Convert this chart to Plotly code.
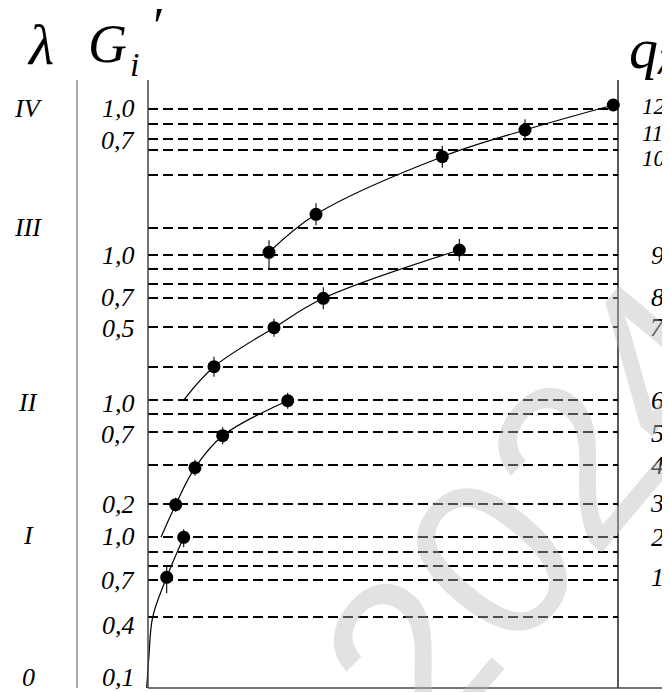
import plotly.graph_objects as go

# Coordinate system: x = distance from the left border of the diagram,
# y = height above the base line (both in diagram units).

# Dashed level lines
level_lines = [579, 564, 549, 538, 513, 460, 433, 419, 404, 390, 361,
               321, 288, 274, 256, 223, 184, 151, 136, 122, 108, 71]

curve_a_x = [-1.3, 0.8, 4.7, 18.7, 35.7]
curve_a_y = [0, 30, 71, 110.7, 150.7]
pts_a_x = [18.7, 35.7]
pts_a_y = [110.7, 150.7]
pts_a_up = [10.7, 8]
pts_a_dn = [16, 10]

curve_b_x = [13, 27.7, 47, 74.7, 139.7]
curve_b_y = [150.7, 183.3, 220.3, 252.3, 287.3]
pts_b_x = [27.7, 47, 74.7, 139.7]
pts_b_y = [183.3, 220.3, 252.3, 287.3]
pts_b_up = [7, 8, 8.5, 8]
pts_b_dn = [7, 8, 8.5, 8]

curve_c_x = [36.3, 66, 126, 175.3, 311.3]
curve_c_y = [288.7, 321.3, 360.3, 389.7, 438]
pts_c_x = [66, 126, 175.3, 311.3]
pts_c_y = [321.3, 360.3, 389.7, 438]
pts_c_up = [10, 9, 11, 11]
pts_c_dn = [10, 9, 11, 11]

curve_d_x = [121, 168, 294.3, 377, 465.3]
curve_d_y = [435.7, 473.7, 531.3, 558, 583]
pts_d_x = [121, 168, 294.3, 377, 465.3]
pts_d_y = [435.7, 473.7, 531.3, 558, 583]
pts_d_up = [12, 11, 11, 10.7, 0]
pts_d_dn = [17, 11, 11, 10.7, 0]

# Tick labels
g_labels = ["1,0", "0,7", "1,0", "0,7", "0,5", "1,0", "0,7", "0,2", "1,0", "0,7", "0,4", "0,1"]
g_label_y = [580, 548, 433, 391, 360, 285, 254, 184, 152, 108, 63, 11]
lambda_labels = ["IV", "III", "II", "I", "0"]
lambda_label_y = [580, 461, 286, 153, 11]
q_labels = ["12", "11", "10", "9", "8", "7", "6", "5", "4", "3", "2", "1"]
q_label_y = [582, 555, 530, 433, 391, 361, 288, 255, 223, 185, 151, 111]

X_RIGHT = 470
Y_TOP = 608

fig = go.Figure()

def add_curve(cx, cy, px, py, up, dn):
    fig.add_trace(go.Scatter(x=cx, y=cy, mode="lines",
                             line=dict(color="black", width=1.2, shape="spline", smoothing=1.0),
                             hoverinfo="skip"))
    fig.add_trace(go.Scatter(x=px, y=py, mode="markers",
                             marker=dict(color="black", size=13, symbol="circle"),
                             error_y=dict(type="data", symmetric=False, array=up, arrayminus=dn,
                                          width=0, thickness=1.1, color="black")))

# dashed levels
for yv in level_lines:
    fig.add_shape(type="line", x0=0, x1=X_RIGHT, y0=yv, y1=yv, xref="x", yref="y",
                  line=dict(color="black", width=1.8, dash="10px,5px"))

# frame lines
fig.add_shape(type="line", x0=-71, x1=-71, y0=0, y1=Y_TOP, line=dict(color="#555555", width=1))
fig.add_shape(type="line", x0=0, x1=0, y0=0, y1=Y_TOP, line=dict(color="#444444", width=1.5))
fig.add_shape(type="line", x0=X_RIGHT, x1=X_RIGHT, y0=0, y1=Y_TOP, line=dict(color="black", width=1.3))
fig.add_shape(type="line", x0=0, x1=530, y0=0, y1=0, line=dict(color="#444444", width=1.3))

add_curve(curve_a_x, curve_a_y, pts_a_x, pts_a_y, pts_a_up, pts_a_dn)
add_curve(curve_b_x, curve_b_y, pts_b_x, pts_b_y, pts_b_up, pts_b_dn)
add_curve(curve_c_x, curve_c_y, pts_c_x, pts_c_y, pts_c_up, pts_c_dn)
add_curve(curve_d_x, curve_d_y, pts_d_x, pts_d_y, pts_d_up, pts_d_dn)

SERIF = "Liberation Serif, Times New Roman, serif"
ann = []
for t, yv in zip(g_labels, g_label_y):
    ann.append(dict(x=-11, y=yv, text="<i>" + t + "</i>", xanchor="right", yanchor="middle",
                    showarrow=False, font=dict(family=SERIF, size=26, color="black")))
for t, yv in zip(lambda_labels, lambda_label_y):
    ann.append(dict(x=-120, y=yv, text="<i>" + t + "</i>", xanchor="center", yanchor="middle",
                    showarrow=False, font=dict(family=SERIF, size=26, color="black")))
for t, yv in zip(q_labels, q_label_y):
    if len(t) > 1:
        ann.append(dict(x=492, y=yv, text="<i>" + t + "</i>", xanchor="left", yanchor="middle",
                        showarrow=False, font=dict(family=SERIF, size=23, color="black")))
    else:
        ann.append(dict(x=509, y=yv, text="<i>" + t + "</i>", xanchor="center", yanchor="middle",
                        showarrow=False, font=dict(family=SERIF, size=26, color="black")))

# headers
ann.append(dict(x=-108, y=644, text="<i>λ</i>", showarrow=False, xanchor="center", yanchor="middle",
                font=dict(family=SERIF, size=58, color="black")))
ann.append(dict(x=-41, y=644, text="<i>G</i>", showarrow=False, xanchor="center", yanchor="middle",
                font=dict(family=SERIF, size=54, color="black")))
ann.append(dict(x=-14, y=624, text="<i>i</i>", showarrow=False, xanchor="center", yanchor="middle",
                font=dict(family=SERIF, size=34, color="black")))
ann.append(dict(x=8, y=662, text="<i>′</i>", showarrow=False, xanchor="center", yanchor="middle",
                font=dict(family=SERIF, size=52, color="black")))
ann.append(dict(x=495, y=640, text="<i>q</i>", showarrow=False, xanchor="center", yanchor="middle",
                font=dict(family=SERIF, size=58, color="black")))
ann.append(dict(x=517, y=626, text="<i>λ</i>", showarrow=False, xanchor="center", yanchor="middle",
                font=dict(family=SERIF, size=34, color="black")))

# watermark
ann.append(dict(x=385, y=178, text="2024", showarrow=False, textangle=-50,
                xanchor="center", yanchor="middle",
                font=dict(family="Liberation Sans, Arial, sans-serif", size=230,
                          color="rgba(185,185,185,0.42)")))

# The page adds an 8px body margin: the figure is sized and ranged so that
# the diagram lands where it is in the 670x692 window.
fig.update_layout(
    width=662, height=684,
    margin=dict(l=0, r=0, t=0, b=0),
    paper_bgcolor="white", plot_bgcolor="white",
    showlegend=False,
    xaxis=dict(range=[-140, 522], visible=False, fixedrange=True),
    yaxis=dict(range=[-4, 680], visible=False, fixedrange=True),
    annotations=ann,
)

fig.write_html("out.html")
